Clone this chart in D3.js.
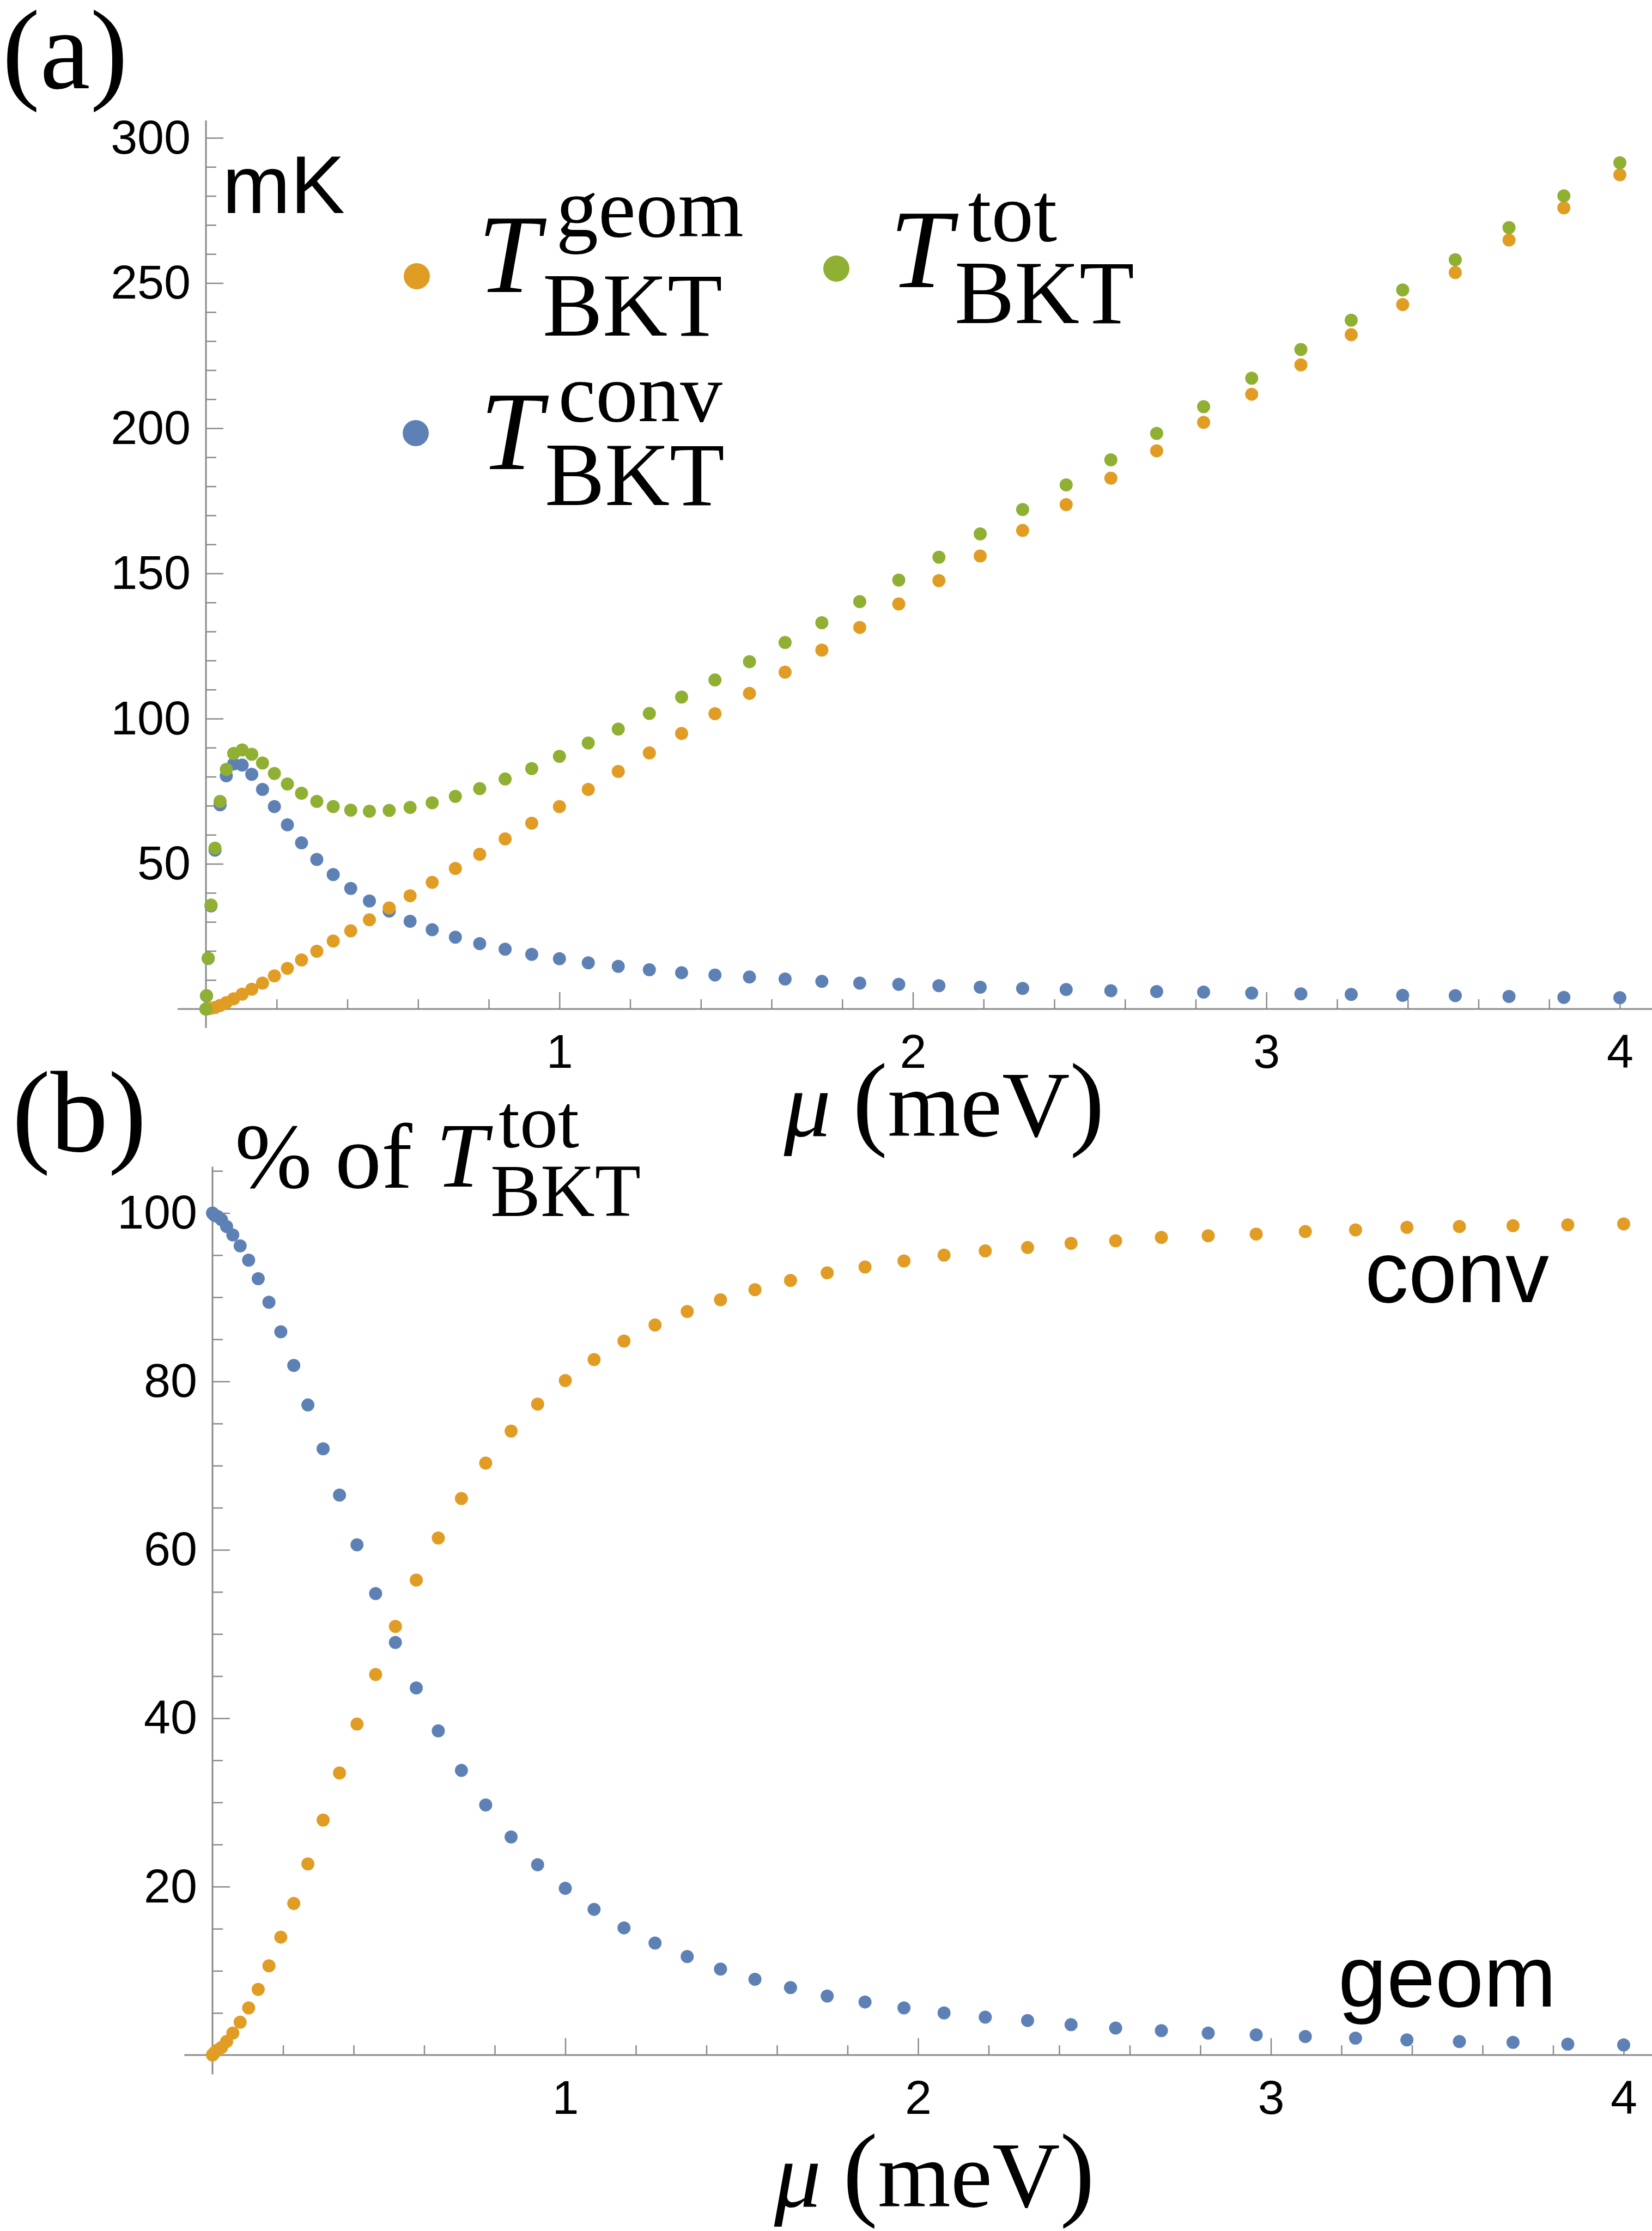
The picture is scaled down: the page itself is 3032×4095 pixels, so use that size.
<!DOCTYPE html>
<html>
<head>
<meta charset="utf-8">
<script src="https://cdn.jsdelivr.net/npm/d3@7.9.0/dist/d3.min.js"></script>
<style>
  html, body { margin: 0; padding: 0; background: #fff; }
  svg { display: block; }
  .tick text { font-family: "Liberation Sans", Arial, sans-serif; font-size: 88px; fill: #000; }
  .tick line { stroke: #8a8a8a; stroke-width: 2.5; }
  .serif { font-family: "Liberation Serif", "Times New Roman", serif; fill: #000; }
  .sans { font-family: "Liberation Sans", Arial, sans-serif; fill: #000; }
</style>
</head>
<body>
<svg id="chart" width="3032" height="4095"></svg>
<script>
// chemical potential (meV), same grid for every series
const mu = [0, 0.0016, 0.0064, 0.0144, 0.0256, 0.04, 0.0576, 0.0784, 0.1024, 0.1296,
  0.16, 0.1936, 0.2304, 0.2704, 0.3136, 0.36, 0.4096, 0.4624, 0.5184, 0.5776,
  0.64, 0.7056, 0.7744, 0.8464, 0.9216, 1.0, 1.0816, 1.1664, 1.2544, 1.3456,
  1.44, 1.5376, 1.6384, 1.7424, 1.8496, 1.96, 2.0736, 2.1904, 2.3104, 2.4336,
  2.56, 2.6896, 2.8224, 2.9584, 3.0976, 3.24, 3.3856, 3.5344, 3.6864, 3.8416, 4.0];

// panel (a), mK
const convMK = [0, 4.5, 17.4, 35.5, 54.7, 70.3, 80.3, 84.4, 84.0, 80.8,
  75.6, 69.7, 63.4, 57.2, 51.5, 46.3, 41.5, 37.2, 33.7, 30.2,
  27.3, 24.7, 22.5, 20.6, 18.8, 17.3, 15.9, 14.7, 13.5, 12.5,
  11.7, 11.0, 10.3, 9.5, 8.9, 8.5, 8.0, 7.5, 7.1, 6.7,
  6.3, 6.0, 5.8, 5.5, 5.2, 5.0, 4.7, 4.6, 4.3, 4.0, 3.9];
const geomMK = [0, 0.05, 0.1, 0.3, 0.5, 1.2, 2.2, 3.5, 5.1, 6.8,
  8.9, 11.4, 14.0, 16.9, 19.9, 23.4, 26.9, 30.7, 34.8, 39.0,
  43.6, 48.4, 53.3, 58.6, 64.0, 69.7, 75.6, 81.8, 88.2, 94.9,
  101.7, 108.7, 116.0, 123.6, 131.4, 139.5, 147.5, 156.0, 164.8, 173.7,
  182.8, 192.2, 202.0, 211.7, 221.8, 232.2, 242.6, 253.6, 264.8, 275.9, 287.3];
const totMK = [0, 4.6, 17.5, 35.8, 55.4, 71.5, 82.5, 88.0, 89.2, 87.7,
  84.7, 81.1, 77.5, 74.3, 71.5, 69.7, 68.5, 68.1, 68.4, 69.4,
  71.0, 73.2, 75.9, 79.2, 82.8, 87.0, 91.6, 96.4, 101.8, 107.4,
  113.3, 119.6, 126.2, 133.0, 140.3, 147.7, 155.6, 163.6, 172.0, 180.5,
  189.1, 198.2, 207.4, 217.2, 227.1, 237.2, 247.6, 258.0, 269.1, 280.0, 291.4];

// panel (b), percent of total
const convPct = [100, 99.9, 99.7, 99.6, 99.2, 98.4, 97.4, 96.1, 94.4, 92.2,
  89.4, 85.9, 81.9, 77.2, 72.0, 66.5, 60.6, 54.8, 49.0, 43.6,
  38.5, 33.8, 29.7, 25.9, 22.6, 19.8, 17.3, 15.1, 13.3, 11.7,
  10.2, 9.0, 8.0, 7.0, 6.3, 5.6, 5.0, 4.5, 4.1, 3.6,
  3.2, 2.9, 2.6, 2.4, 2.2, 2.0, 1.8, 1.6, 1.5, 1.3, 1.2];
const geomPct = [0, 0.1, 0.3, 0.6, 0.9, 1.6, 2.6, 3.9, 5.6, 7.8,
  10.6, 14.0, 18.0, 22.7, 27.9, 33.5, 39.3, 45.2, 50.9, 56.4,
  61.4, 66.1, 70.3, 74.1, 77.3, 80.1, 82.6, 84.8, 86.7, 88.3,
  89.7, 90.9, 92.0, 92.9, 93.6, 94.3, 95.0, 95.5, 95.9, 96.4,
  96.7, 97.1, 97.3, 97.5, 97.8, 98.0, 98.3, 98.4, 98.5, 98.6, 98.7];

const muTicks = [1, 2, 3, 4];
const mkTicks = [50, 100, 150, 200, 250, 300];
const pctTicks = [20, 40, 60, 80, 100];

const colors = { conv: '#5E81B5', geom: '#E19C24', tot: '#8FB032' };
const axisColor = '#8a8a8a';

const svg = d3.select('#chart');
svg.append('rect').attr('width', 3032).attr('height', 4095).attr('fill', '#fff');

function minorTicks(lo, hi, step, major) {
  return d3.range(lo, hi + step / 2, step)
    .map(v => +v.toFixed(3))
    .filter(v => major.every(m => Math.abs(m - v) > 1e-6));
}

function drawPanel(p) {
  const g = svg.append('g');
  const x = p.x, y = p.y;

  // axis lines
  g.append('line')
    .attr('x1', x(-0.08)).attr('x2', x(4.2))
    .attr('y1', y(0)).attr('y2', y(0))
    .attr('stroke', axisColor).attr('stroke-width', 3);
  g.append('line')
    .attr('x1', x(0)).attr('x2', x(0))
    .attr('y1', y(p.yTop)).attr('y2', y(p.yBottom))
    .attr('stroke', axisColor).attr('stroke-width', 3);

  // minor ticks
  g.append('g')
    .attr('transform', `translate(0,${y(0)})`)
    .call(d3.axisBottom(x).tickValues(minorTicks(0.2, 4, 0.2, muTicks)).tickSize(-18).tickFormat(''))
    .call(s => s.select('.domain').remove());
  g.append('g')
    .attr('transform', `translate(${x(0)},0)`)
    .call(d3.axisLeft(y).tickValues(p.yMinor).tickSize(-19).tickFormat(''))
    .call(s => s.select('.domain').remove());

  // major ticks with labels
  g.append('g')
    .attr('transform', `translate(0,${y(0)})`)
    .call(d3.axisBottom(x).tickValues(muTicks).tickSize(-31).tickPadding(46).tickFormat(d3.format('d')))
    .call(s => s.select('.domain').remove());
  g.append('g')
    .attr('transform', `translate(${x(0)},0)`)
    .call(d3.axisLeft(y).tickValues(p.yTicks).tickSize(-32).tickPadding(28).tickFormat(d3.format('d')))
    .call(s => s.select('.domain').remove());

  g.selectAll('.tick text').attr('font-family', null).attr('font-size', null);

  // points, drawn in series order so the later ones sit on top
  p.series.forEach(s => {
    g.append('g').selectAll('circle')
      .data(s.values)
      .join('circle')
      .attr('cx', (d, i) => x(mu[i]))
      .attr('cy', d => y(d))
      .attr('r', 12)
      .attr('fill', s.color);
  });
}

function muLabel(cx, baseline) {
  const t = svg.append('text')
    .attr('class', 'serif')
    .attr('x', cx).attr('y', baseline)
    .attr('text-anchor', 'middle')
    .attr('font-size', 172);
  t.append('tspan').attr('font-style', 'italic').text('μ');
  t.append('tspan').attr('font-size', 192).attr('dx', 40).text('(');
  t.append('tspan').text('meV');
  t.append('tspan').attr('font-size', 192).text(')');
}

function label(x, y, str, size, cls, italic) {
  return svg.append('text')
    .attr('class', cls)
    .attr('x', x).attr('y', y)
    .attr('font-size', size)
    .attr('font-style', italic ? 'italic' : 'normal')
    .text(str);
}

// T with stacked superscript / subscript
function tLabel(x, baseline, sup, tSize, supSize, subSize, supDy, subDy) {
  label(x, baseline, 'T', tSize, 'serif', true);
  label(x + tSize * 0.70, baseline + supDy, sup, supSize, 'serif', false);
  label(x + tSize * 0.58, baseline + subDy, 'BKT', subSize, 'serif', false);
}

// ---------- panel (a)
const xA = d3.scaleLinear().domain([0, 4]).range([378, 2973]);
const yA = d3.scaleLinear().domain([0, 300]).range([1852, 253]);

drawPanel({
  x: xA, y: yA,
  yTop: 306, yBottom: -6.5,
  yTicks: mkTicks,
  yMinor: minorTicks(10, 300, 10, mkTicks),
  series: [
    { values: convMK, color: colors.conv },
    { values: geomMK, color: colors.geom },
    { values: totMK, color: colors.tot }
  ]
});

label(4, 162, '(a)', 208, 'serif', false);
label(408, 391, 'mK', 150, 'sans', false);

// legend
svg.append('circle').attr('cx', 765).attr('cy', 507).attr('r', 24).attr('fill', colors.geom);
tLabel(877, 536, 'geom', 205, 155, 165, -102, 80);
svg.append('circle').attr('cx', 1535).attr('cy', 493).attr('r', 24).attr('fill', colors.tot);
tLabel(1633, 527, 'tot', 205, 155, 165, -85, 66);
svg.append('circle').attr('cx', 763).attr('cy', 795).attr('r', 24).attr('fill', colors.conv);
tLabel(881, 861, 'conv', 205, 155, 165, -88, 66);

muLabel(1733, 2085);

// ---------- panel (b)
const xB = d3.scaleLinear().domain([0, 4]).range([390, 2980]);
const yB = d3.scaleLinear().domain([0, 100]).range([3772, 2226.5]);

drawPanel({
  x: xB, y: yB,
  yTop: 105.5, yBottom: -2.3,
  yTicks: pctTicks,
  yMinor: minorTicks(5, 105, 5, pctTicks),
  series: [
    { values: convPct, color: colors.conv },
    { values: geomPct, color: colors.geom }
  ]
});

label(22, 2113, '(b)', 212, 'serif', false);

// y label: % of T^tot_BKT
label(431, 2180, '% of', 170, 'serif', false);
label(800, 2178, 'T', 170, 'serif', true);
label(915, 2106, 'tot', 140, 'serif', false);
label(900, 2232, 'BKT', 138, 'serif', false);

label(2505, 2390, 'conv', 160, 'sans', false);
label(2456, 3683, 'geom', 160, 'sans', false);

muLabel(1715, 4050);
</script>
